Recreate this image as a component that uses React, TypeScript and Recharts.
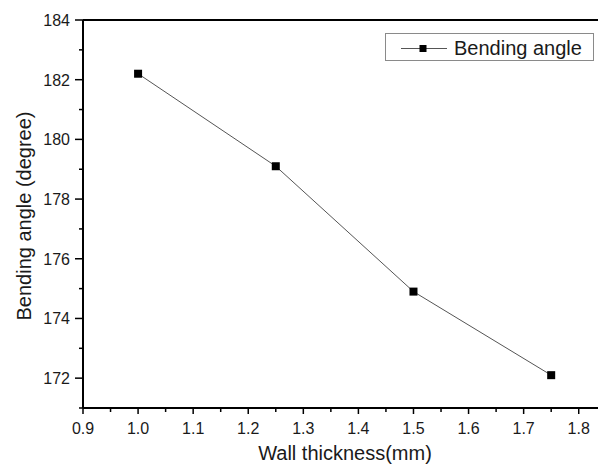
import React from 'react';
import { LineChart, Line, XAxis, YAxis, Legend, ReferenceLine, Customized } from 'recharts';

const thickness = [1.0, 1.25, 1.5, 1.75];
const bendingAngle = [182.2, 179.1, 174.9, 172.1];
const xTicks = [0.9, 0.95, 1.0, 1.05, 1.1, 1.15, 1.2, 1.25, 1.3, 1.35, 1.4, 1.45, 1.5, 1.55, 1.6, 1.65, 1.7, 1.75, 1.8];
const yTicks = [171, 172, 173, 174, 175, 176, 177, 178, 179, 180, 181, 182, 183, 184];
const seriesName = 'Bending angle';
const xLabel = 'Wall thickness(mm)';
const yLabel = 'Bending angle (degree)';

const data = thickness.map((t, i) => ({ t, v: bendingAngle[i] }));

const FONT = '"Liberation Sans", Arial, sans-serif';
const TXT = '#1a1a1a';

const XTick = (props: any) => {
  const { x, y, payload } = props;
  const v = payload.value as number;
  const major = Math.abs(v * 10 - Math.round(v * 10)) < 1e-6;
  return (
    <g>
      <line x1={x} x2={x} y1={y} y2={y + (major ? 6 : 4)} stroke="#000" strokeWidth={1.5} />
      {major && (
        <text x={x} y={y + 26} textAnchor="middle" fontSize={16} fontFamily={FONT} fill={TXT}>
          {v.toFixed(1)}
        </text>
      )}
    </g>
  );
};

const YTick = (props: any) => {
  const { x, y, payload } = props;
  const v = payload.value as number;
  const major = v % 2 === 0;
  return (
    <g>
      <line x1={x} x2={x - (major ? 8 : 4)} y1={y} y2={y} stroke="#000" strokeWidth={1.5} />
      {major && (
        <text x={x - 13} y={y + 6} textAnchor="end" fontSize={16} fontFamily={FONT} fill={TXT}>
          {v}
        </text>
      )}
    </g>
  );
};

const SquareDot = (props: any) => {
  const { cx, cy } = props;
  if (cx == null || cy == null) return null;
  return <rect x={cx - 4} y={cy - 4} width={8} height={8} fill="#000" />;
};

const LegendBox = () => (
  <svg width={210} height={29} style={{ display: 'block' }}>
    <rect x={0.5} y={0.5} width={208} height={27} fill="#fff" stroke="#8a8a8a" strokeWidth={1} />
    <line x1={16} x2={62} y1={15.5} y2={15.5} stroke="#555" strokeWidth={1} />
    <rect x={34.5} y={12} width={7} height={7} fill="#000" />
    <text x={69} y={22} fontSize={20} fontFamily={FONT} fill={TXT}>{seriesName}</text>
  </svg>
);

const AxisLabels = () => (
  <g>
    <text x={345} y={460} textAnchor="middle" fontSize={20} fontFamily={FONT} fill={TXT}>{xLabel}</text>
    <text x={31} y={216} textAnchor="middle" fontSize={20} fontFamily={FONT} fill={TXT} transform="rotate(-90 31 216)">{yLabel}</text>
  </g>
);

export default function App() {
  return (
    <div style={{ position: 'absolute', left: 0, top: 0, background: '#fff' }}>
      <LineChart width={598} height={473} data={data} margin={{ top: 20, right: 0, left: 0, bottom: 0 }}>
        <XAxis
          dataKey="t"
          type="number"
          domain={[0.9, 1.835]}
          ticks={xTicks}
          interval={0}
          height={65}
          tickSize={0}
          tickMargin={0}
          tick={<XTick />}
          axisLine={{ stroke: '#000', strokeWidth: 2 }}
          allowDataOverflow
        />
        <YAxis
          type="number"
          domain={[171, 184]}
          ticks={yTicks}
          interval={0}
          width={83}
          tickSize={0}
          tickMargin={0}
          tick={<YTick />}
          axisLine={{ stroke: '#000', strokeWidth: 2 }}
          allowDataOverflow
        />
        <ReferenceLine y={184} stroke="#000" strokeWidth={2} ifOverflow="visible" />
        <Legend
          layout="vertical"
          align="center"
          verticalAlign="middle"
          wrapperStyle={{ position: 'absolute', left: 385, top: 33, width: 210, height: 29 }}
          content={() => <LegendBox />}
        />
        <Line
          dataKey="v"
          name={seriesName}
          type="linear"
          stroke="#555"
          strokeWidth={1}
          dot={<SquareDot />}
          isAnimationActive={false}
        />
        <Customized component={AxisLabels} />
      </LineChart>
    </div>
  );
}
